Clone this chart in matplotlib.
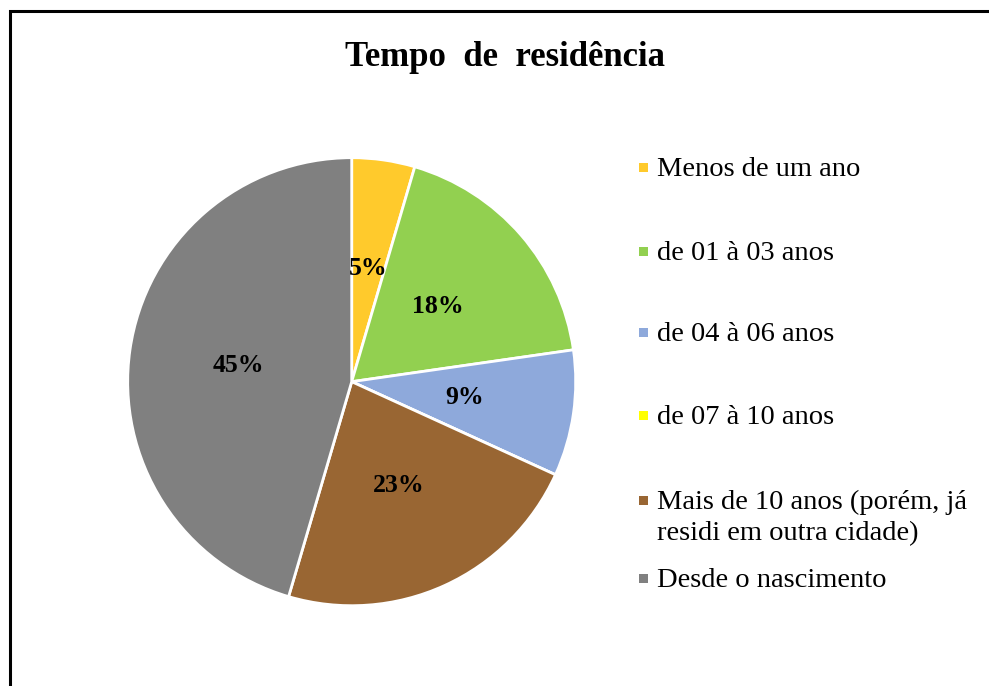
import matplotlib.pyplot as plt
from matplotlib.patches import Rectangle

# Tempo de residência - respostas (contagens)
categorias = ['Menos de um ano', 'de 01 à 03 anos', 'de 04 à 06 anos', 'de 07 à 10 anos',
              'Mais de 10 anos (porém, já\nresidi em outra cidade)', 'Desde o nascimento']
respostas = [1, 4, 2, 0, 5, 10]
cores = ['#FFCA2C', '#92D050', '#8EA9DB', '#FFFF00', '#996633', '#808080']
titulo = 'Tempo  de  residência'

plt.rcParams['font.family'] = ['Liberation Serif', 'DejaVu Serif']

W, H = 989, 686
fig = plt.figure(figsize=(W / 100, H / 100), dpi=100)

# moldura (corta a direita e embaixo)
fig.patches.append(Rectangle((10 / W, -0.1), 1.2, 1 - 11 / H + 0.1, transform=fig.transFigure,
                             fill=False, edgecolor='black', linewidth=2.2))

# pizza
cx, cy, r = 351.7, 381.7, 224
ax = fig.add_axes([(cx - r) / W, (H - cy - r) / H, 2 * r / W, 2 * r / H])


def pct_label(p):
    return '' if p == 0 else f'{p:.0f}%'


wedges, _, autotexts = ax.pie(respostas, colors=cores, startangle=90, counterclock=False,
                              autopct=pct_label, pctdistance=0.51,
                              wedgeprops=dict(edgecolor='white', linewidth=2))
for t in autotexts:
    t.set_fontsize(18.5)
    t.set_fontweight('bold')
ax.set_xlim(-1, 1)
ax.set_ylim(-1, 1)
ax.set_aspect('equal')
ax.axis('off')

fig.text(505 / W, 1 - 58 / H, titulo, ha='center', va='center', fontsize=25, fontweight='bold')

# legenda
linhas_y = [167, 251, 332, 415, 500, 578]
for cat, cor, y in zip(categorias, cores, linhas_y):
    fig.patches.append(Rectangle((639 / W, 1 - (y + 4.5) / H), 9 / W, 9 / H,
                                 transform=fig.transFigure, facecolor=cor, edgecolor='none'))
    fig.text(657 / W, 1 - (y - 10) / H, cat, ha='left', va='top', fontsize=20.5,
             linespacing=1.32)

fig.savefig('out.png', dpi=100)
